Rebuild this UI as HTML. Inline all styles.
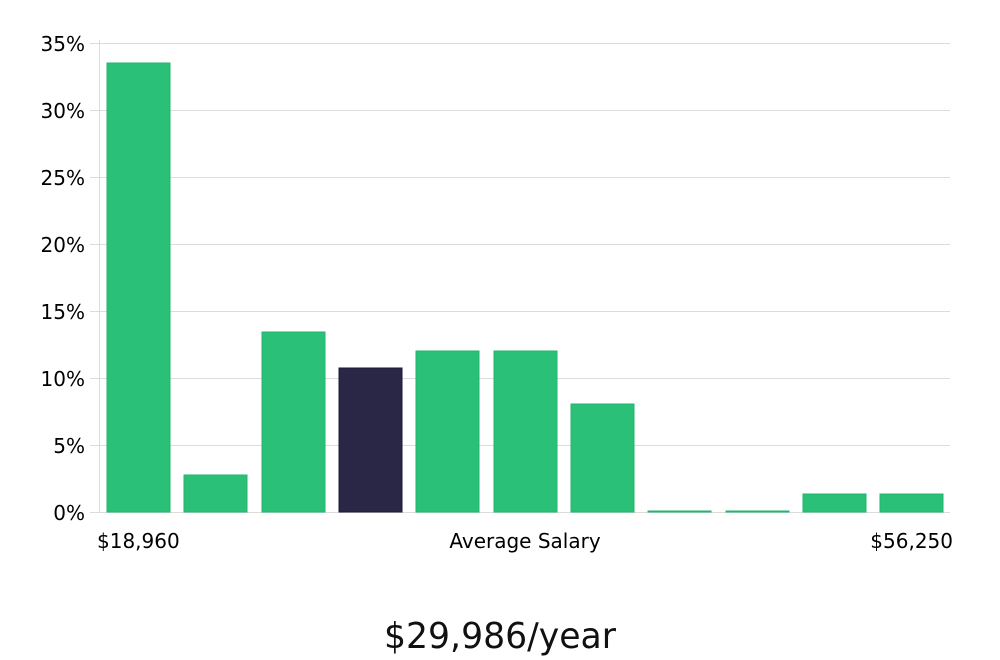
<!DOCTYPE html>
<html><head><meta charset="utf-8"><style>
html,body{margin:0;padding:0;background:#fff;}
svg{display:block;}
</style></head><body>
<svg width="1000" height="660" viewBox="0 0 1000 660" xmlns="http://www.w3.org/2000/svg" font-family="DejaVu Sans, Liberation Sans, sans-serif">
<g stroke="#dcdcdc" stroke-width="1">
<line x1="99" y1="43.5" x2="950" y2="43.5"/>
<line x1="99" y1="110.5" x2="950" y2="110.5"/>
<line x1="99" y1="177.5" x2="950" y2="177.5"/>
<line x1="99" y1="244.5" x2="950" y2="244.5"/>
<line x1="99" y1="311.5" x2="950" y2="311.5"/>
<line x1="99" y1="378.5" x2="950" y2="378.5"/>
<line x1="99" y1="445.5" x2="950" y2="445.5"/>
<line x1="99" y1="512.5" x2="950" y2="512.5"/>
<line x1="99.5" y1="40" x2="99.5" y2="512"/>
<line x1="90" y1="43.5" x2="99" y2="43.5"/>
<line x1="90" y1="110.5" x2="99" y2="110.5"/>
<line x1="90" y1="177.5" x2="99" y2="177.5"/>
<line x1="90" y1="244.5" x2="99" y2="244.5"/>
<line x1="90" y1="311.5" x2="99" y2="311.5"/>
<line x1="90" y1="378.5" x2="99" y2="378.5"/>
<line x1="90" y1="445.5" x2="99" y2="445.5"/>
<line x1="90" y1="512.5" x2="99" y2="512.5"/>
</g>
<g fill="#2ac077" stroke="#22b46c" stroke-width="1">
<rect x="107" y="63" width="63" height="449"/>
<rect x="184" y="475" width="63" height="37"/>
<rect x="262" y="332" width="63" height="180"/>
<rect x="416" y="351" width="63" height="161"/>
<rect x="494" y="351" width="63" height="161"/>
<rect x="571" y="404" width="63" height="108"/>
<rect x="648" y="511" width="63" height="1"/>
<rect x="726" y="511" width="63" height="1"/>
<rect x="803" y="494" width="63" height="18"/>
<rect x="880" y="494" width="63" height="18"/>
</g>
<rect x="339" y="368" width="63" height="144" fill="#292646" stroke="#1c1a38" stroke-width="1"/>
<g font-size="20" fill="#000" text-anchor="end">
<text x="85" y="51">35%</text>
<text x="85" y="118">30%</text>
<text x="85" y="185">25%</text>
<text x="85" y="252">20%</text>
<text x="85" y="319">15%</text>
<text x="85" y="386">10%</text>
<text x="85" y="453">5%</text>
<text x="85" y="520">0%</text>
</g>
<g font-size="20" fill="#000">
<text x="97" y="548">$18,960</text>
<text x="525" y="548" text-anchor="middle">Average Salary</text>
<text x="953" y="548" text-anchor="end">$56,250</text>
</g>
<text x="500" y="648" font-size="36" fill="#111" text-anchor="middle" font-family="DejaVu Sans, Liberation Sans, sans-serif" textLength="232" lengthAdjust="spacingAndGlyphs">$29,986/year</text>
</svg>
</body></html>
